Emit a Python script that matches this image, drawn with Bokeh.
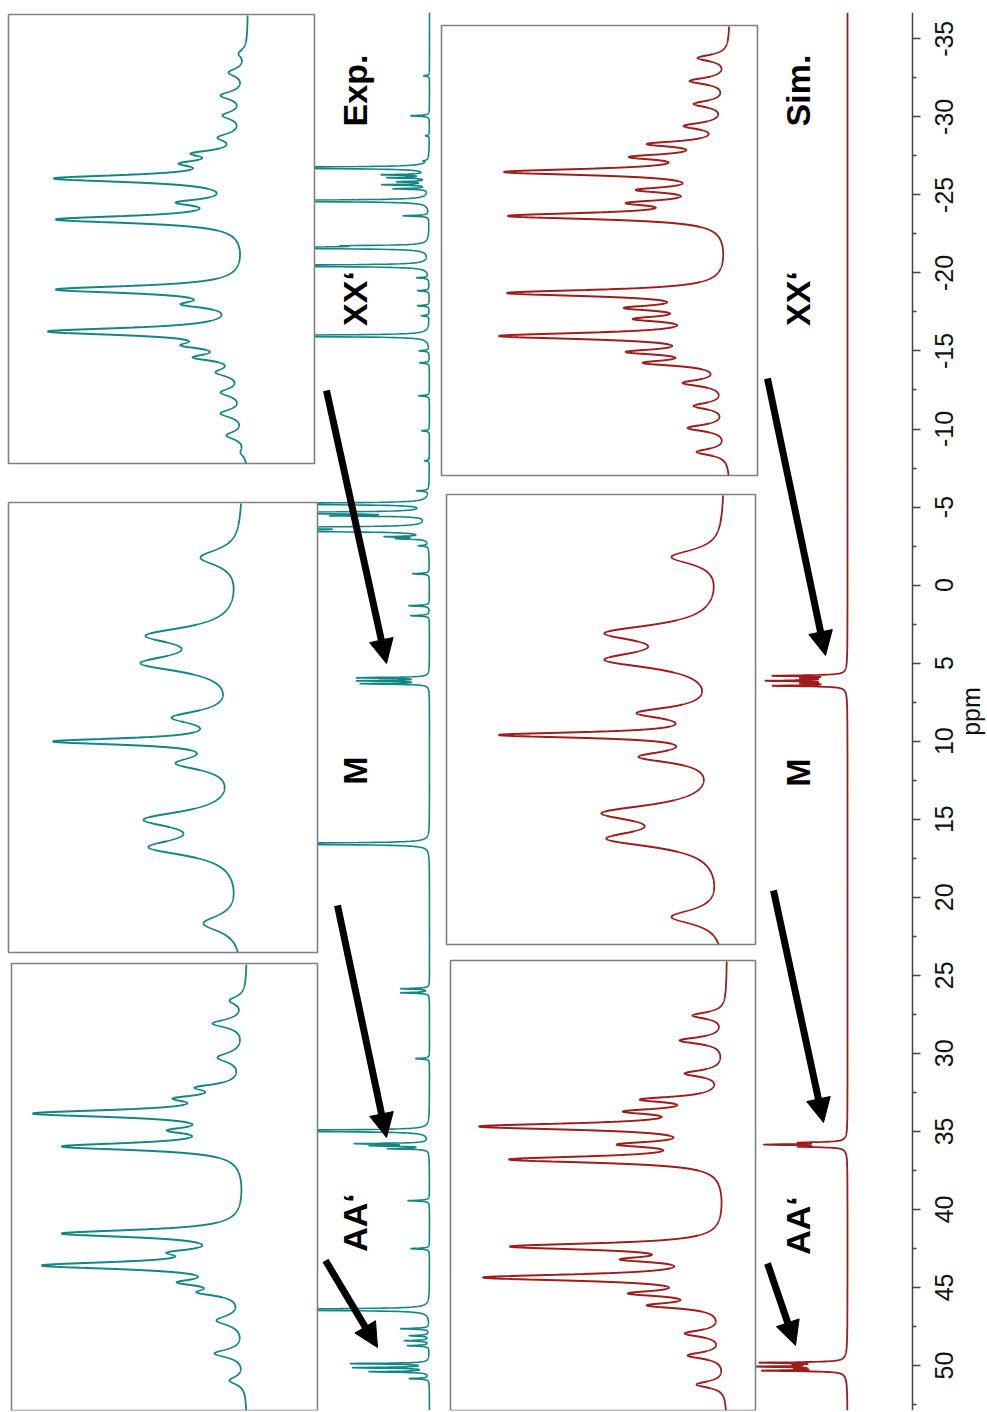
import math
import numpy as np
from bokeh.plotting import figure
from bokeh.models import Range1d, FixedTicker, Arrow, NormalHead, ColumnDataSource, LinearAxis
from bokeh.core.properties import value
from bokeh.embed import file_html
from bokeh.resources import INLINE

# ---------------- main spectra: peak positions (ppm) and heights ----------------
exp_ppm = [-32.63, -30.07, -28.79, -27.18, -26.74, -26.29, -26.10, -25.84, -25.65, -25.39, -24.62, -23.66,
           -21.74, -21.61, -20.46, -19.69, -18.86, -17.90, -17.26, -15.97, -15.01, -14.24, -12.13, -9.89, -7.97,
           -6.04, -5.21, -4.63, -4.44, -3.67, -3.48, -3.10, -2.97, -2.52, -0.73, 1.32, 1.96,
           5.94, 6.13, 6.32, 16.57, 25.86, 26.12, 30.34, 34.96, 35.79, 35.92, 36.11, 39.44, 42.51,
           46.42, 47.64, 48.09, 48.41, 48.73, 49.88, 50.14, 50.40, 50.84]
exp_height = [6, 19, 4, 4, 400, 45, 40, 30, 46, 35, 400, 26,
              62, 400, 400, 12, 12, 12, 8, 400, 10, 10, 11, 8, 5,
              12, 400, 400, 86, 400, 400, 39, 29, 10, 17, 21, 19,
              72, 70, 68, 400, 29, 29, 14, 400, 72, 55, 40, 22, 19,
              400, 29, 20, 25, 22, 79, 76, 60, 20]

sim_ppm = [5.81, 5.97, 6.13, 6.29, 6.45, 6.12,
           35.72, 35.85, 35.98, 35.84,
           49.82, 49.95, 50.07, 50.20, 50.33, 50.06]
sim_height = [70, 35, 72, 35, 70, 5,
              40, 74, 40, 4,
              80, 35, 78, 35, 78, 5]
sim_hwhm = [0.04, 0.04, 0.04, 0.04, 0.04, 0.35,
            0.04, 0.04, 0.04, 0.3,
            0.04, 0.04, 0.04, 0.04, 0.04, 0.4]

# ---------------- inset spectra (shift offset, height, half width) ----------------
exp_xx_shift = [-185.5, -166.5, -143.5, -123.5, -101.5, -85.5, -75.5, -60.5, -36.5, -19.5,
                50.5, 65.5, 92.5, 106.5, 118.5, 133.5, 153.5, 174.5, 196.5, 213.5]
exp_xx_height = [10, 20, 28, 26, 31, 58, 70, 195, 73, 193, 193, 68, 201, 68, 56, 33, 28, 28, 22, 8]
exp_xx_hwhm = [5, 5, 5, 5, 5, 4, 4, 4.5, 4, 4.5, 4.5, 4, 4.5, 4, 4, 5, 5, 5, 5, 5]

exp_m_shift = [-170, -92, -64, -10, 14, 36, 92, 120, 196]
exp_m_height = [43, 98, 103, 72, 191, 68, 100, 95, 40]
exp_m_hwhm = [10, 10, 10, 8, 4, 8, 10, 10, 10]

exp_aa_shift = [-186.5, -163.5, -129.5, -99.5, -88.5, -73.5, -56.5, -40.5,
                46.5, 65.5, 78.5, 95.5, 105.5, 133.5, 166.5, 193.5]
exp_aa_height = [18, 35, 30, 53, 75, 215, 81, 186, 186, 81, 206, 71, 51, 31, 33, 18]
exp_aa_hwhm = [5, 5, 6, 4, 4, 4.5, 4, 4.5, 4.5, 4, 4.5, 4, 4, 6, 5, 5]

sim_xx_shift = [-192.5, -169.5, -146.5, -124.5, -106.5, -93.5, -78.5, -60.5, -47.5, -34.5,
                42.5, 57.5, 68.5, 85.5, 101.5, 112.5, 132.5, 155.5, 177.5, 201.5]
sim_xx_height = [33, 41, 37, 47, 84, 102, 227, 95, 105, 223, 224, 107, 98, 232, 105, 88, 48, 37, 43, 34]
sim_xx_hwhm = [4, 4, 4, 4, 3.5, 3.5, 4, 3.5, 3.5, 4, 4, 3.5, 3.5, 4, 3.5, 3.5, 4, 4, 4, 4]

sim_m_shift = [-162.5, -86.5, -59.5, -6.5, 15.5, 37.5, 93.5, 119.5, 197.5]
sim_m_height = [54, 121, 121, 89, 227, 87, 124, 119, 54]
sim_m_hwhm = [9, 10, 10, 7, 3.5, 7, 10, 10, 9]

sim_aa_shift = [-170, -145, -112, -86, -74, -59, -41, -26, 61, 74, 92, 108, 120, 148, 170, 199]
sim_aa_height = [35, 48, 43, 88, 105, 249, 111, 219, 218, 108, 245, 100, 81, 43, 40, 31]
sim_aa_hwhm = [4, 4, 4, 3.5, 3.5, 4, 3.5, 4, 4, 3.5, 4, 3.5, 3.5, 4, 4, 4]

tick_values = list(range(-35, 55, 5))
minor_tick_values = [t + 2.5 for t in range(-35, 55, 5)]
tick_labels = [str(v) for v in tick_values]
axis_title = "ppm"

labels_text = ["Exp.", "XX\u2018", "M", "AA\u2018", "Sim.", "XX\u2018", "M", "AA\u2018"]

EXP_COLOR = "#138585"
SIM_COLOR = "#9e1c1c"
FONT = "Liberation Sans"

# ---------------- layout (page pixels; canvas starts at page origin) ----------------
W, H = 987, 1411
FRAME_L, FRAME_R, FRAME_T, FRAME_B = 0, W, 12, 1410
AXIS_X = 912
TICK_LABEL_X = 943
AXIS_TITLE_X = 970
PX_PER_PPM = (1365.0 - 38.3) / 85.0
PPM_TOP = -35 - (38.3 - FRAME_T) / PX_PER_PPM
PPM_BOT = -35 + (FRAME_B - 38.3) / PX_PER_PPM


def lorentz(grid, pos, height, hwhm, solve=True):
    pos = np.asarray(pos, float)
    h = np.asarray(height, float)
    w = np.asarray(hwhm, float)
    if solve:
        A = 1.0 / (1.0 + ((pos[:, None] - pos[None, :]) / w[None, :]) ** 2)
        amp = np.clip(np.linalg.lstsq(A, h, rcond=None)[0], 0, None)
    else:
        amp = h
    return (amp[None, :] / (1.0 + ((grid[:, None] - pos[None, :]) / w[None, :]) ** 2)).sum(axis=1)


def xrange_for_baseline(xb):
    # intensity 0 at page column xb, growing to the left
    return Range1d(start=xb - FRAME_L, end=xb - FRAME_R)


def yrange_for_center(cy):
    return Range1d(start=FRAME_B - cy, end=FRAME_T - cy)


p = figure(width=W, height=H, output_backend="svg", toolbar_location=None,
           x_range=Range1d(FRAME_L, FRAME_R), y_range=Range1d(PPM_BOT, PPM_TOP),
           x_axis_location=None, y_axis_location=None,
           min_border_left=0, min_border_top=FRAME_T, min_border_bottom=H - FRAME_B,
           min_border_right=0)
p.grid.visible = False
p.outline_line_color = None
p.background_fill_color = "white"
p.border_fill_color = "white"
p.extra_y_ranges = {"px": Range1d(FRAME_B, FRAME_T)}
p.extra_x_ranges = {"exp_main": xrange_for_baseline(429), "sim_main": xrange_for_baseline(847)}

# ppm axis line and ticks (labels drawn below, rotated and centred on the ticks)
ax = LinearAxis(fixed_location=AXIS_X)
ax.ticker = FixedTicker(ticks=tick_values, minor_ticks=minor_tick_values)
ax.major_label_overrides = {v: "" for v in tick_values}
ax.major_label_text_font_size = "0px"
ax.major_tick_out = 8
ax.major_tick_in = 0
ax.minor_tick_out = 4
ax.minor_tick_in = 0
ax.axis_line_width = 1.5
ax.axis_line_color = "#444444"
ax.major_tick_line_width = 1.5
ax.major_tick_line_color = "#444444"
ax.minor_tick_line_width = 1.5
ax.minor_tick_line_color = "#444444"
p.add_layout(ax, "right")

p.text(x=[TICK_LABEL_X] * len(tick_values), y=tick_values, text=tick_labels, angle=math.pi / 2,
       text_font=value(FONT), text_font_size="25px", text_color="#111111",
       text_align="center", text_baseline="middle")
p.text(x=[AXIS_TITLE_X], y=[0.5 * (PPM_TOP + PPM_BOT)], text=[axis_title], angle=math.pi / 2,
       text_font=value(FONT), text_font_size="25px", text_color="#111111",
       text_align="center", text_baseline="middle")

# main spectra
grid = np.arange(PPM_TOP, PPM_BOT, 0.01)
exp_curve = lorentz(grid, exp_ppm, exp_height, [0.035] * len(exp_ppm), solve=False)
sim_curve = lorentz(grid, sim_ppm, sim_height, sim_hwhm, solve=False)
p.line(exp_curve, grid, x_range_name="exp_main", line_color=EXP_COLOR, line_width=1.6)
p.line(sim_curve, grid, x_range_name="sim_main", line_color=SIM_COLOR, line_width=1.8)

# insets: (box left, right, top, bottom, baseline column, data, colour)
insets = [
    ("exp_xx", 8, 314, 14, 463, 248, exp_xx_shift, exp_xx_height, exp_xx_hwhm, EXP_COLOR),
    ("exp_m", 8, 317, 502, 952, 243, exp_m_shift, exp_m_height, exp_m_hwhm, EXP_COLOR),
    ("exp_aa", 11, 317, 963, 1410, 247, exp_aa_shift, exp_aa_height, exp_aa_hwhm, EXP_COLOR),
    ("sim_xx", 441, 757, 25, 475, 730, sim_xx_shift, sim_xx_height, sim_xx_hwhm, SIM_COLOR),
    ("sim_m", 446, 755, 494, 944, 725, sim_m_shift, sim_m_height, sim_m_hwhm, SIM_COLOR),
    ("sim_aa", 450, 755, 960, 1410, 727, sim_aa_shift, sim_aa_height, sim_aa_hwhm, SIM_COLOR),
]
for name, bl, br, bt, bb, xb, sh, hh, ww, col in insets:
    p.quad(left=[bl], right=[br], top=[bt], bottom=[bb], y_range_name="px",
           fill_color="white", line_color="#808080", line_width=1.6)
    cy = 0.5 * (bt + bb)
    p.extra_y_ranges[name + "_y"] = yrange_for_center(cy)
    p.extra_x_ranges[name + "_x"] = xrange_for_baseline(xb)
    g = np.arange(bt - cy + 1, min(bb, FRAME_B) - cy, 0.25)
    curve = lorentz(g, sh, hh, ww)
    p.line(curve, g, x_range_name=name + "_x", y_range_name=name + "_y",
           line_color=col, line_width=1.8)

# labels
lab_src = ColumnDataSource(dict(x=[354, 354, 354, 354, 797, 797, 797, 797],
                                y=[90, 298, 770, 1222, 90, 298, 772, 1225],
                                text=labels_text))
p.text(x="x", y="y", text="text", source=lab_src, y_range_name="px", angle=math.pi / 2,
       text_font=value(FONT), text_font_style="bold", text_font_size="34px",
       text_align="center", text_baseline="middle", text_color="black")

# arrows (tail -> tip, page pixels)
arrow_x0 = [326, 337, 325, 767, 773, 767]
arrow_y0 = [390, 905, 1260, 378, 890, 1263]
arrow_x1 = [386, 386, 377, 825, 823, 795]
arrow_y1 = [663, 1137, 1347, 655, 1122, 1345]
for a, b, c, d in zip(arrow_x0, arrow_y0, arrow_x1, arrow_y1):
    p.add_layout(Arrow(x_start=a, y_start=b, x_end=c, y_end=d, y_range_name="px",
                       line_width=7, line_color="black",
                       end=NormalHead(size=24, fill_color="black", line_color="black", line_width=1)))

open("out.html", "w").write(file_html(p, INLINE))
